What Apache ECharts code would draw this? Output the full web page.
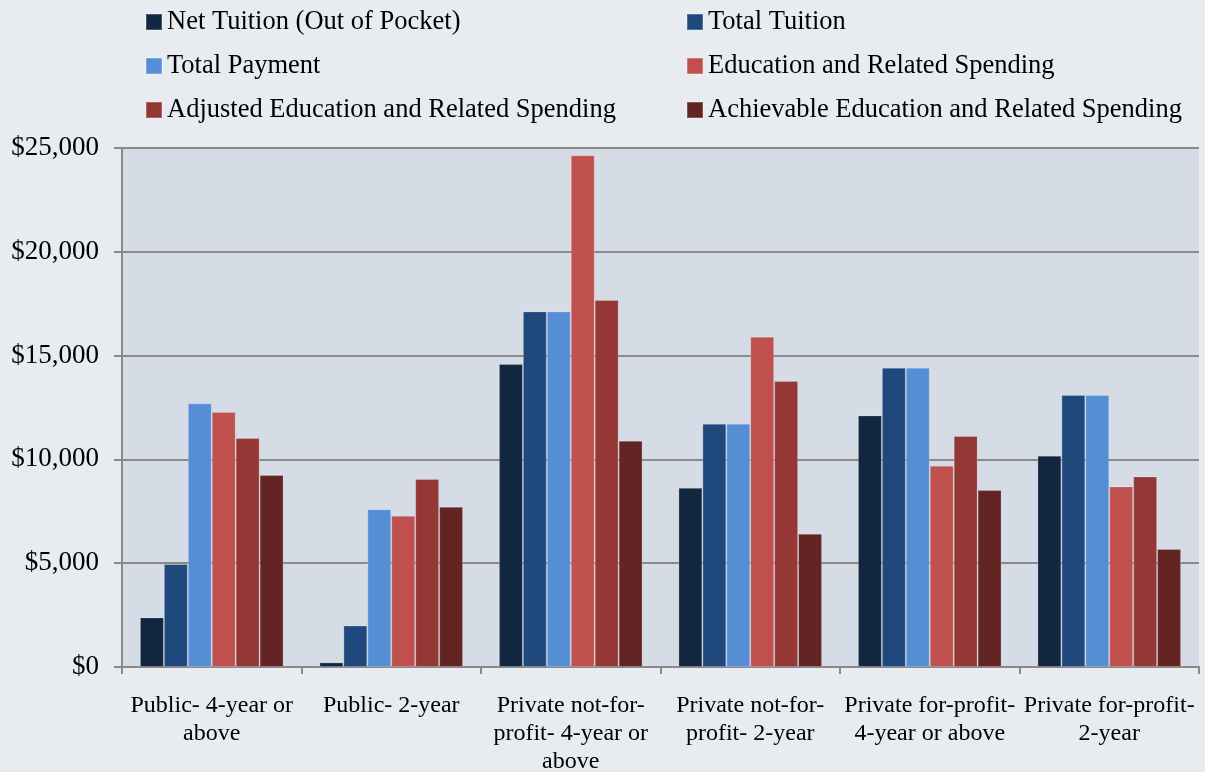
<!DOCTYPE html>
<html>
<head>
<meta charset="utf-8">
<script src="https://cdn.jsdelivr.net/npm/echarts@6/dist/echarts.min.js"></script>
<style>
  html, body { margin: 0; padding: 0; background: #E8ECF1; }
  #main { width: 1205px; height: 772px; }
</style>
</head>
<body>
<div id="main"></div>
<script>
// chart data
var categories = [
  'Public- 4-year or\nabove',
  'Public- 2-year',
  'Private not-for-\nprofit- 4-year or\nabove',
  'Private not-for-\nprofit- 2-year',
  'Private for-profit-\n4-year or above',
  'Private for-profit-\n2-year'
];
var netTuition = [2390, 220, 14600, 8630, 12120, 10180];
var totalTuition = [4960, 2000, 17130, 11720, 14420, 13100];
var totalPayment = [12700, 7600, 17130, 11720, 14420, 13100];
var eduSpending = [12280, 7290, 24650, 15910, 9700, 8700];
var adjustedSpending = [11030, 9060, 17680, 13780, 11130, 9180];
var achievableSpending = [9250, 7720, 10900, 6420, 8530, 5680];
var yTicks = { min: 0, max: 25000, interval: 5000 };

var font = "'Liberation Serif', 'Times New Roman', serif";
var gridColor = '#8A8A8A';

function bar(name, data, color) {
  return {
    name: name,
    type: 'bar',
    data: data,
    barGap: '0%',
    barCategoryGap: '20%',
    itemStyle: { color: color, borderColor: 'rgba(255,255,255,0.22)', borderWidth: 1 }
  };
}

var legendText = { fontFamily: font, fontSize: 26.5, color: '#000', lineHeight: 30 };

var myChart = echarts.init(document.getElementById('main'));
var option = {
  backgroundColor: '#E8ECF1',
  textStyle: { fontFamily: font },
  legend: [
    {
      orient: 'vertical',
      left: 140, top: 2,
      itemWidth: 16, itemHeight: 16, itemGap: 14,
      icon: 'rect',
      textStyle: legendText,
      data: ['Net Tuition (Out of Pocket)', 'Total Payment', 'Adjusted Education and Related Spending']
    },
    {
      orient: 'vertical',
      left: 681, top: 2,
      itemWidth: 16, itemHeight: 16, itemGap: 14,
      icon: 'rect',
      textStyle: legendText,
      data: ['Total Tuition', 'Education and Related Spending', 'Achievable Education and Related Spending']
    }
  ],
  grid: {
    left: 122, right: 6, top: 148, bottom: 105,
    outerBoundsMode: 'none',
    show: true, backgroundColor: '#D5DCE6', borderWidth: 0
  },
  xAxis: {
    type: 'category',
    data: categories,
    axisLine: { lineStyle: { color: gridColor, width: 2 } },
    axisTick: { show: true, length: 7, lineStyle: { color: gridColor, width: 2 } },
    axisLabel: {
      interval: 0, margin: 25, fontSize: 24, lineHeight: 28,
      color: '#000', fontFamily: font
    }
  },
  yAxis: {
    type: 'value',
    min: yTicks.min, max: yTicks.max, interval: yTicks.interval,
    axisLine: { show: true, lineStyle: { color: gridColor, width: 2 } },
    axisTick: { show: true, length: 8, lineStyle: { color: gridColor, width: 2 } },
    splitLine: { lineStyle: { color: gridColor, width: 2 } },
    axisLabel: {
      margin: 23, fontSize: 27, color: '#000', fontFamily: font,
      formatter: function (v) { return '$' + v.toLocaleString('en-US'); }
    }
  },
  series: [
    bar('Net Tuition (Out of Pocket)', netTuition, '#12263F'),
    bar('Total Tuition', totalTuition, '#1F497D'),
    bar('Total Payment', totalPayment, '#558ED5'),
    bar('Education and Related Spending', eduSpending, '#C0504D'),
    bar('Adjusted Education and Related Spending', adjustedSpending, '#953735'),
    bar('Achievable Education and Related Spending', achievableSpending, '#632523')
  ]
};
myChart.setOption(option);
</script>
</body>
</html>
